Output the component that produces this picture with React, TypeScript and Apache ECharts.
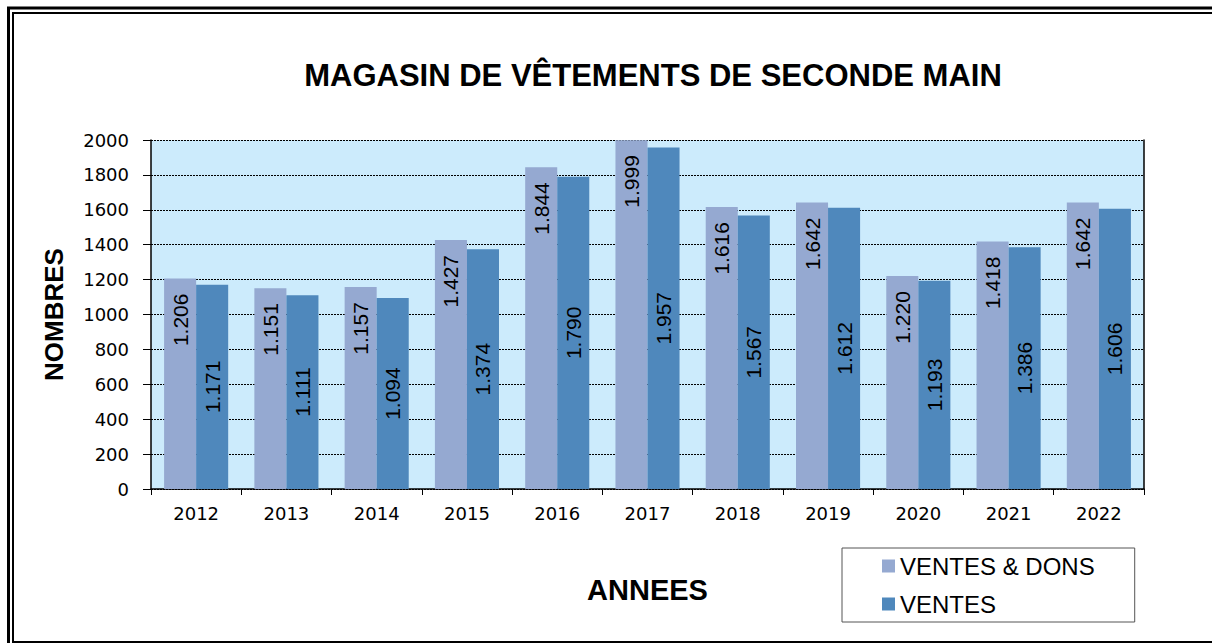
import React, { useEffect, useRef } from "react";
import * as echarts from "echarts";

const years = ["2012", "2013", "2014", "2015", "2016", "2017", "2018", "2019", "2020", "2021", "2022"];
const ventesDons = [1206, 1151, 1157, 1427, 1844, 1999, 1616, 1642, 1220, 1418, 1642];
const ventes = [1171, 1111, 1094, 1374, 1790, 1957, 1567, 1612, 1193, 1386, 1606];
const seriesNames = ["VENTES & DONS", "VENTES"];
const titleText = "MAGASIN DE VÊTEMENTS DE SECONDE MAIN";

const fmt = (v: number) =>
  v >= 1000 ? Math.floor(v / 1000) + "." + String(v % 1000).padStart(3, "0") : String(v);

const ARIAL = "'Liberation Sans', Arial, sans-serif";
const TAHOMA = "'DejaVu Sans', Tahoma, sans-serif";

export default function App() {
  const ref = useRef<HTMLDivElement>(null);
  useEffect(() => {
    if (!ref.current) return;
    const chart = echarts.init(ref.current, undefined, { renderer: "svg" });
    chart.setOption({
      animation: false,
      backgroundColor: "#ffffff",
      title: {
        text: titleText,
        left: 648,
        top: 55,
        textAlign: "center",
        textStyle: { fontFamily: ARIAL, fontSize: 31, fontWeight: "bold", color: "#000" },
      },
      graphic: [
        { type: "rect", shape: { x: 8.5, y: 8, width: 1300, height: 700 }, style: { fill: "none", stroke: "#000", lineWidth: 3 }, silent: true },
        { type: "rect", shape: { x: 13, y: 13, width: 1300, height: 629 }, style: { fill: "none", stroke: "#000", lineWidth: 2 }, silent: true },
      ],
      legend: {
        orient: "vertical",
        left: 842,
        top: 548,
        padding: [5, 40, 5, 40],
        itemGap: 12,
        itemWidth: 13,
        itemHeight: 13,
        icon: "rect",
        borderColor: "#555",
        borderWidth: 1,
        data: seriesNames,
        textStyle: { fontFamily: ARIAL, fontSize: 24, color: "#000", lineHeight: 26 },
      },
      grid: {
        left: 151,
        top: 140,
        right: 68,
        bottom: 154,
        show: true,
        backgroundColor: "#CCEBFC",
        borderWidth: 0,
      },
      xAxis: {
        type: "category",
        data: years,
        name: "ANNEES",
        nameLocation: "middle",
        nameGap: 86,
        nameTextStyle: { fontFamily: ARIAL, fontSize: 29, fontWeight: "bold", color: "#000" },
        axisLine: { lineStyle: { color: "#000", width: 1.5 } },
        axisTick: { show: true, length: 6, lineStyle: { color: "#000" } },
        axisLabel: { fontFamily: TAHOMA, fontSize: 18, color: "#000", margin: 15 },
      },
      yAxis: [
        {
          type: "value",
          min: 0,
          max: 2000,
          interval: 200,
          name: "NOMBRES",
          nameLocation: "middle",
          nameRotate: 90,
          nameGap: 84,
          nameTextStyle: { fontFamily: ARIAL, fontSize: 26, fontWeight: "bold", color: "#000" },
          axisLine: { show: true, lineStyle: { color: "#000", width: 1.5 } },
          axisTick: { show: true, length: 8, lineStyle: { color: "#000" } },
          axisLabel: { fontFamily: TAHOMA, fontSize: 18, color: "#000", margin: 22, formatter: (v: number) => String(v) },
          splitLine: { show: true, lineStyle: { color: "#000", type: [2, 1], width: 1 } },
        },
        {
          type: "value",
          min: 0,
          max: 2000,
          interval: 200,
          position: "right",
          axisLine: { show: true, lineStyle: { color: "#000", width: 1.5 } },
          axisTick: { show: false },
          axisLabel: { show: false },
          splitLine: { show: false },
        },
      ],
      series: [
        {
          name: seriesNames[0],
          type: "bar",
          data: ventesDons,
          barGap: "0%",
          barCategoryGap: "29%",
          itemStyle: { color: "#95A9D1" },
          label: {
            show: true,
            position: "insideTop",
            rotate: 90,
            align: "right",
            verticalAlign: "middle",
            distance: 15,
            fontFamily: ARIAL,
            fontSize: 21,
            color: "#000",
            formatter: (p: any) => fmt(p.value),
          },
        },
        {
          name: seriesNames[1],
          type: "bar",
          data: ventes,
          barGap: "0%",
          barCategoryGap: "29%",
          itemStyle: { color: "#4F88BC" },
          label: {
            show: true,
            position: "inside",
            rotate: 90,
            align: "center",
            verticalAlign: "middle",
            fontFamily: ARIAL,
            fontSize: 21,
            color: "#000",
            formatter: (p: any) => fmt(p.value),
          },
        },
      ],
    });
    return () => chart.dispose();
  }, []);
  return (
    <div
      ref={ref}
      style={{ position: "absolute", left: 0, top: 0, width: 1212, height: 643 }}
    />
  );
}
